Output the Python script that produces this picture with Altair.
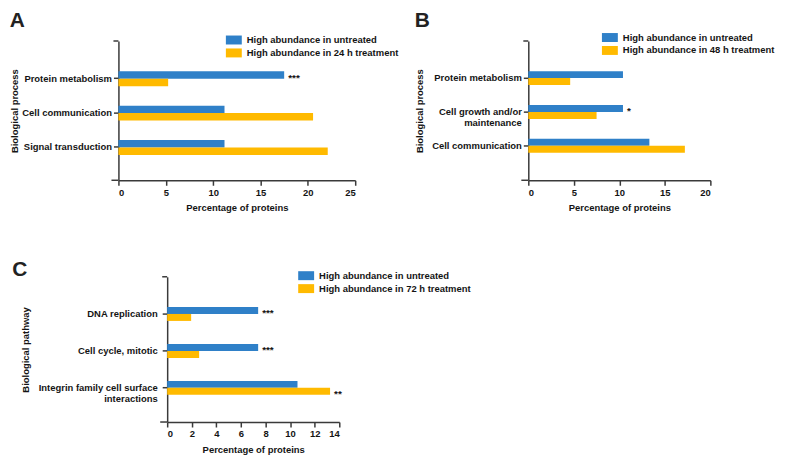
import altair as alt
import pandas as pd

FONT = "Liberation Sans"
FS = 9.5
BLUE = "#2F80C8"
ORANGE = "#FFBA00"
AXIS = "#3a3a3a"
TXT = "#141414"

# ---------------- data ----------------
A_cats = ["Protein metabolism", "Cell communication", "Signal transduction"]
A_untreated = [17.5, 11.2, 11.2]
A_treated = [5.25, 20.55, 22.1]
A_sig_untreated = ["***", "", ""]
A_sig_treated = ["", "", ""]

B_cats = ["Protein metabolism", "Cell growth and/or maintenance", "Cell communication"]
B_untreated = [10.4, 10.4, 13.3]
B_treated = [4.6, 7.5, 17.2]
B_sig_untreated = ["", "*", ""]
B_sig_treated = ["", "", ""]

C_cats = ["DNA replication", "Cell cycle, mitotic", "Integrin family cell surface interactions"]
C_untreated = [7.4, 7.4, 10.6]
C_treated = [1.95, 2.6, 13.25]
C_sig_untreated = ["***", "***", ""]
C_sig_treated = ["", "", "**"]

untreated_label = "High abundance in untreated"
treated_labels = ["High abundance in 24 h treatment",
                  "High abundance in 48 h treatment",
                  "High abundance in 72 h treatment"]

A_ticks = [0, 5, 10, 15, 20, 25]
B_ticks = [0, 5, 10, 15, 20]
C_ticks = [0, 2, 4, 6, 8, 10, 12, 14]

label_lines = {
    "Cell growth and/or maintenance": ["Cell growth and/or", "maintenance"],
    "Integrin family cell surface interactions": ["Integrin family cell surface", "interactions"],
}

def label_expr(cats):
    expr = "datum.label"
    for c in cats:
        if c in label_lines:
            parts = ", ".join("'" + p + "'" for p in label_lines[c])
            expr = f"datum.label == '{c}' ? [{parts}] : " + expr
    return expr


def panel(letter, cats, unt, trt, sig_u, sig_t, treat_label, ticks, ytitle,
          width, height, pout, align, barh, ytitle_pad, ylabel_pad, legx, legy,
          title_off, title_dx, lead=0):
    series = [untreated_label, treat_label]
    rows = []
    for c, v, s in zip(cats, unt, sig_u):
        rows.append({"cat": c, "series": series[0], "value": v, "sig": s})
    for c, v, s in zip(cats, trt, sig_t):
        rows.append({"cat": c, "series": series[1], "value": v, "sig": s})
    df = pd.DataFrame(rows)

    if lead:
        xscale = alt.Scale(domain=[ticks[0], ticks[-1]], nice=False, zero=True,
                           range=[lead, lead + width])
    else:
        xscale = alt.Scale(domain=[ticks[0], ticks[-1]], nice=False, zero=True)
    yscale = alt.Scale(paddingInner=0, paddingOuter=pout, align=align)

    xaxis = alt.Axis(title="Percentage of proteins", values=ticks, format="d",
                     grid=False, domainColor=AXIS, domainWidth=1.5,
                     tickColor=AXIS, tickWidth=1.5, tickSize=5,
                     labelFont=FONT, labelFontSize=FS, labelFontWeight="bold",
                     labelColor=TXT, labelPadding=2, labelOverlap=False,
                     titleFont=FONT, titleFontSize=FS, titleFontWeight="bold",
                     titleColor=TXT, titlePadding=6)
    yaxis = alt.Axis(title=ytitle, grid=False, domainColor=AXIS, domainWidth=1.5,
                     tickColor=AXIS, tickWidth=1.5, tickSize=5, offset=-lead,
                     labelFont=FONT, labelFontSize=FS, labelFontWeight="bold",
                     labelColor=TXT, labelPadding=ylabel_pad, labelLineHeight=11,
                     labelExpr=label_expr(cats), labelLimit=300,
                     titleFont=FONT, titleFontSize=FS, titleFontWeight="bold",
                     titleColor=TXT, titlePadding=ytitle_pad)
    x = alt.X("value:Q", scale=xscale, axis=xaxis)
    y = alt.Y("cat:N", sort=cats, scale=yscale, axis=yaxis)
    color = alt.Color("series:N", sort=series,
                      scale=alt.Scale(domain=series, range=[BLUE, ORANGE]),
                      legend=alt.Legend(title=None, orient="none", legendX=legx, legendY=legy,
                                        symbolType="M-1.6,-0.9H1.6V0.9H-1.6Z", symbolSize=100,
                                        symbolStrokeWidth=0, symbolOpacity=1,
                                        labelFont=FONT, labelFontSize=FS,
                                        labelFontWeight="bold", labelColor=TXT,
                                        labelOffset=8, rowPadding=3, labelLimit=300))
    base = alt.Chart(df)
    layers = []
    for i, s in enumerate(series):
        off = (-0.5 if i == 0 else 0.5) * barh
        sub = base.transform_filter(alt.datum.series == s)
        layers.append(sub.mark_bar(height=barh, yOffset=off).encode(x=x, y=y, color=color))
        layers.append(sub.mark_text(align="left", baseline="middle", dx=4, dy=off + 2.5,
                                    font=FONT, fontSize=10, fontWeight="bold",
                                    color=TXT).encode(x=x, y=y, text="sig:N"))
    # Prism-style axis end ticks (top of the category axis, left end of value axis)
    deco = alt.Chart(pd.DataFrame({"d": [0]}))
    layers.append(deco.mark_rule(color=AXIS, strokeWidth=1.5).encode(
        x=alt.value(lead - 5), x2=alt.value(lead), y=alt.value(0)))
    layers.append(deco.mark_rule(color=AXIS, strokeWidth=1.5).encode(
        x=alt.value(lead - 7), x2=alt.value(lead), y=alt.value(height)))
    return alt.layer(*layers).properties(
        width=width + lead, height=height,
        title=alt.TitleParams(letter, anchor="start", frame="bounds", font=FONT,
                              fontSize=21, fontWeight="bold", color="#222222",
                              offset=title_off, dx=title_dx))


pA = panel("A", A_cats, A_untreated, A_treated, A_sig_untreated, A_sig_treated,
           treated_labels[0], A_ticks, "Biological process", 238, 140,
           0.529, 0.568, 7.5, 2, 2, 111, -6, 4, 0)
pB = panel("B", B_cats, B_untreated, B_treated, B_sig_untreated, B_sig_treated,
           treated_labels[1], B_ticks, "Biological process", 183, 140,
           0.559, 0.534, 7, 7, 2, 77, -8.5, 1.5, 0)
pC = panel("C", C_cats, C_untreated, C_treated, C_sig_untreated, C_sig_treated,
           treated_labels[2], C_ticks, "Biological pathway", 173, 146,
           0.465, 0.544, 7, 8, 5, 183.7, -6.1, -9.6, -8, lead=49)

top = alt.hconcat(pA, pB, spacing=174, bounds="flush").resolve_scale(color="independent")

chart = alt.vconcat(top, pC, spacing=47).resolve_scale(color="independent").properties(
    padding={"left": 1, "top": 1, "right": 5, "bottom": 5}, background="white"
).configure_view(stroke=None, strokeWidth=0)

chart.save("out.html", embed_options={"renderer": "svg", "actions": False})
